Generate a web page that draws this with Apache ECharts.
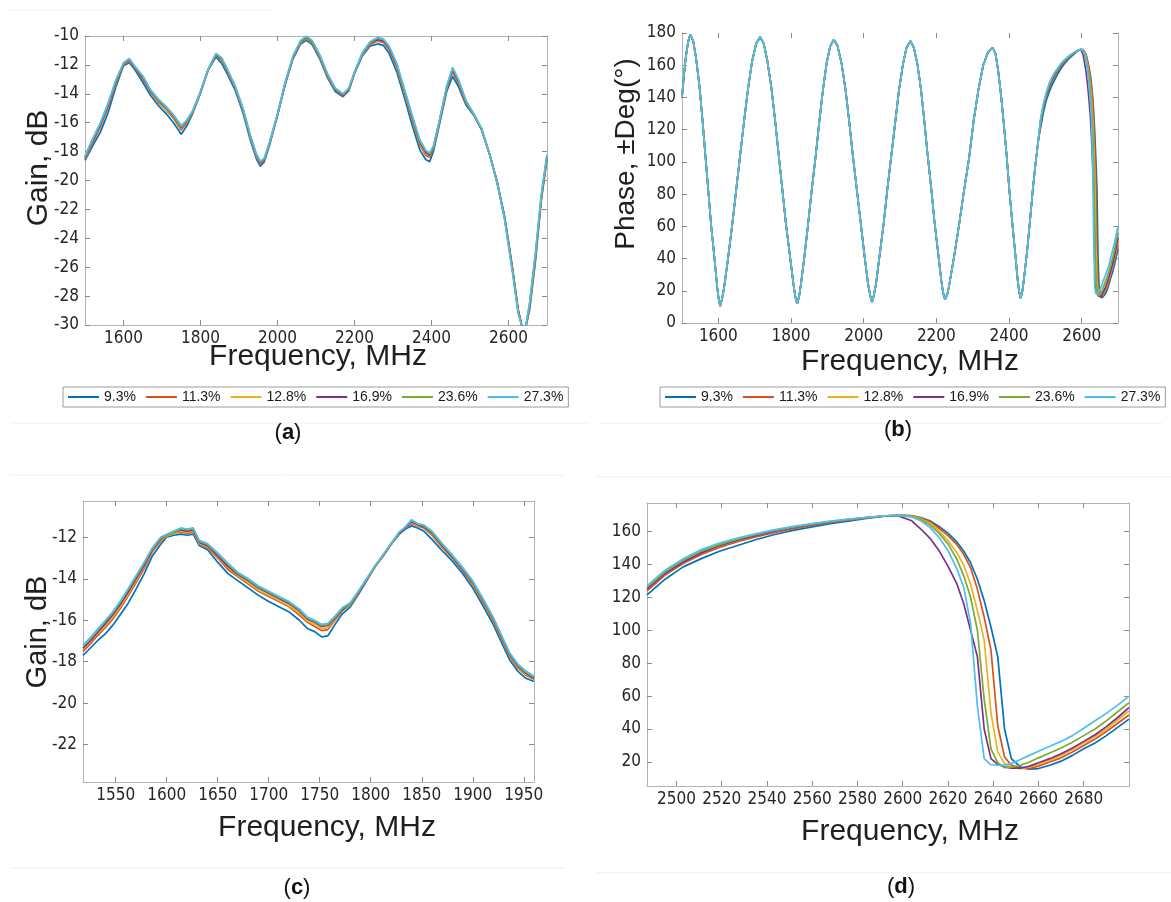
<!DOCTYPE html>
<html>
<head>
<meta charset="utf-8">
<script src="https://cdn.jsdelivr.net/npm/echarts/dist/echarts.min.js"></script>
<style>
html,body{margin:0;padding:0;background:#fff;}
#chart{width:1171px;height:902px;}
</style>
</head>
<body>
<div id="chart"></div>
<script>
// ---------- series meta ----------
const seriesNames = ['9.3%', '11.3%', '12.8%', '16.9%', '23.6%', '27.3%'];
const seriesColors = ['#0072BD', '#D95319', '#EDB120', '#7E2F8E', '#77AC30', '#4DBEEE'];

// ---------- panel (a): gain vs frequency ----------
const freqA = [1500,1520,1540,1560,1580,1600,1615,1630,1650,1670,1690,1710,1730,1750,1765,1780,1800,1820,1840,1855,
  1870,1890,1910,1930,1945,1955,1965,1980,2000,2020,2040,2060,2075,2090,2110,2130,2150,2170,2185,2200,
  2220,2240,2260,2275,2290,2310,2330,2350,2370,2385,2395,2405,2420,2440,2455,2470,2490,2510,2530,2550,
  2570,2590,2610,2625,2635,2645,2655,2670,2685,2700];
const gainA_93 = [-18.6,-17.6,-16.65,-15.3,-13.55,-12.05,-11.85,-12.35,-13.2,-14.1,-14.8,-15.35,-16.0,-16.8,-16.2,-15.35,-13.95,-12.35,-11.45,-11.9,
  -12.65,-13.75,-15.3,-17.25,-18.5,-19.0,-18.75,-17.5,-15.5,-13.35,-11.6,-10.55,-10.3,-10.6,-11.6,-12.9,-13.85,-14.2,-13.8,-12.6,
  -11.4,-10.7,-10.55,-10.65,-11.2,-12.5,-14.3,-16.2,-17.9,-18.55,-18.7,-18.0,-16.2,-13.8,-12.8,-13.5,-14.8,-15.5,-16.5,-18.1,
  -20.0,-22.5,-26.0,-29.0,-30.1,-30.2,-28.9,-25.6,-21.4,-18.5];
const gainA_113 = [-18.5,-17.4,-16.3,-14.95,-13.35,-12.0,-11.75,-12.25,-13.0,-13.9,-14.6,-15.1,-15.7,-16.5,-16.0,-15.25,-13.9,-12.35,-11.35,-11.7,
  -12.5,-13.6,-15.15,-17.1,-18.35,-18.85,-18.65,-17.4,-15.45,-13.3,-11.55,-10.45,-10.2,-10.5,-11.5,-12.8,-13.75,-14.15,-13.75,-12.55,
  -11.3,-10.6,-10.35,-10.45,-10.95,-12.2,-14.0,-15.85,-17.55,-18.25,-18.4,-17.8,-16.1,-13.6,-12.5,-13.3,-14.65,-15.45,-16.45,-18.1,
  -20.05,-22.55,-26.0,-28.9,-30.1,-30.1,-28.8,-25.4,-21.35,-18.4];
const gainA_128 = [-18.45,-17.3,-16.2,-14.85,-13.25,-11.95,-11.7,-12.2,-12.95,-13.85,-14.55,-15.05,-15.6,-16.4,-15.95,-15.25,-13.9,-12.35,-11.3,-11.65,
  -12.45,-13.55,-15.1,-17.05,-18.3,-18.8,-18.6,-17.4,-15.45,-13.25,-11.5,-10.45,-10.15,-10.45,-11.45,-12.75,-13.7,-14.1,-13.7,-12.55,
  -11.3,-10.55,-10.3,-10.4,-10.9,-12.15,-13.95,-15.75,-17.45,-18.15,-18.3,-17.75,-16.05,-13.55,-12.4,-13.2,-14.6,-15.45,-16.45,-18.1,
  -20.1,-22.6,-26.1,-29.0,-30.1,-30.1,-28.7,-25.3,-21.3,-18.35];
const gainA_169 = [-18.4,-17.25,-16.15,-14.8,-13.2,-11.95,-11.65,-12.2,-12.9,-13.8,-14.45,-14.95,-15.55,-16.35,-15.9,-15.2,-13.9,-12.3,-11.3,-11.6,
  -12.4,-13.55,-15.05,-17.0,-18.25,-18.75,-18.6,-17.35,-15.45,-13.25,-11.5,-10.4,-10.1,-10.4,-11.4,-12.7,-13.7,-14.1,-13.7,-12.55,
  -11.25,-10.5,-10.25,-10.35,-10.85,-12.05,-13.85,-15.65,-17.35,-18.05,-18.25,-17.7,-16.0,-13.5,-12.35,-13.15,-14.55,-15.45,-16.45,-18.1,
  -20.1,-22.6,-26.1,-29.0,-30.1,-30.1,-28.6,-25.2,-21.2,-18.3];
const gainA_236 = [-18.35,-17.15,-16.05,-14.7,-13.1,-11.9,-11.6,-12.15,-12.8,-13.75,-14.4,-14.9,-15.5,-16.3,-15.85,-15.2,-13.85,-12.3,-11.25,-11.55,
  -12.35,-13.5,-15.0,-16.95,-18.2,-18.7,-18.55,-17.3,-15.4,-13.2,-11.45,-10.35,-10.05,-10.35,-11.35,-12.65,-13.65,-14.05,-13.65,-12.5,
  -11.2,-10.45,-10.15,-10.25,-10.75,-11.95,-13.75,-15.55,-17.25,-17.95,-18.15,-17.65,-15.95,-13.45,-12.2,-13.05,-14.5,-15.4,-16.4,-18.1,
  -20.1,-22.7,-26.2,-29.1,-30.1,-30.1,-28.5,-25.1,-21.1,-18.25];
const gainA_273 = [-18.3,-17.1,-16.0,-14.65,-13.05,-11.85,-11.55,-12.1,-12.75,-13.7,-14.35,-14.85,-15.45,-16.2,-15.8,-15.15,-13.85,-12.3,-11.2,-11.5,
  -12.3,-13.45,-14.95,-16.9,-18.15,-18.65,-18.5,-17.3,-15.4,-13.2,-11.4,-10.3,-10.0,-10.3,-11.3,-12.6,-13.6,-14.0,-13.6,-12.5,
  -11.2,-10.4,-10.1,-10.2,-10.7,-11.9,-13.7,-15.5,-17.2,-17.9,-18.1,-17.6,-15.9,-13.4,-12.2,-13.0,-14.5,-15.4,-16.4,-18.1,
  -20.1,-22.7,-26.3,-29.2,-30.1,-30.1,-28.4,-25.0,-21.0,-18.2];

// ---------- panel (b): phase, common part 1500–2481 MHz ----------
const freqB = [1500,1505,1510,1515,1520,1523,1531,1539,1548,1556,1564,1572,1580,1589,1597,1601,1605,
  1610,1616,1627,1638,1649,1660,1671,1682,1693,1704,1715,
  1725,1735,1746,1756,1766,1776,1786,1797,1807,1812,1817,
  1822,1827,1837,1847,1857,1868,1878,1888,1898,1908,1918,
  1928,1939,1950,1960,1970,1981,1992,2002,2012,2018,2023,
  2028,2034,2044,2055,2065,2076,2087,2097,2108,2118,2129,
  2138,2148,2158,2167,2176,2186,2195,2205,2214,2219,2224,
  2231,2237,2250,2263,2276,2290,2303,2316,2329,2342,2355,
  2363,2370,2378,2386,2394,2401,2409,2417,2424,2428,2432,
  2437,2442,2450,2458,2466,2474,2481];
const phaseB = [140,153,164,172,177.5,178.8,175,164,147,127,105,83,61,41,22,15,10.5,
  14.7,22.2,40.6,60.6,82.3,104,125.7,145.8,162.5,173.3,177.5,
  173.4,162.6,146.1,126.2,104.7,83.2,61.7,41.8,23.6,16.1,12,
  16.1,23.5,41.5,61.2,82.5,103.8,125.2,144.8,161.2,171.9,176,
  172,161.3,145,125.5,104.3,83.1,61.9,42.3,24.4,17.1,13,
  17.1,24.3,42.2,61.6,82.7,103.7,124.8,144.2,160.4,171,175,
  171,160.6,144.5,125.2,104.4,83.5,62.7,43.4,25.7,18.5,14.5,
  18.4,25.5,42.7,61.5,81.8,102.1,126,145,160,168,171,
  167.1,157,141.5,122.8,102.6,82.4,62.2,43.5,26.4,19.4,15.5,
  20,29,45,64,84,101,114];

// ---------- panel (d): phase 2487–2700 MHz (also tail of panel b) ----------
const freqD = [2487,2495,2503,2511,2519,2527,2535,2543,2551,2560,2568,2576,2584,2592,2598,
  2604,2608,2612,2616,2620,2624,2627,2630,2633,2636,2639,2642,2645,2648,2652,2656,2660,2665,2670,2675,2680,2685,2690,2695,2700];
const phaseD_93 = [121.5,131,138.5,143.5,148,151.5,155,158,160.5,162.8,164.8,166.3,168,169.3,169.8,
  169.6,168.5,166.5,163,159,153.5,148,141,131,118,102,84,40,22,17,15.6,16,18,20.5,24,28,31.5,36,41,46];
const phaseD_113 = [124,133.5,140.5,146,150.3,153.8,156.7,159.3,161.6,163.7,165.4,166.9,168.3,169.3,169.8,
  169.5,168.2,166,162,157.5,152,146,138,125,108,88,42,23,18,16.3,16,17.5,20,22.5,26,30,34,38.5,43.5,48.5];
const phaseD_128 = [125,134.5,141.5,147,151.2,154.6,157.4,160,162.2,164.2,165.8,167.2,168.5,169.4,169.8,
  169.3,167.8,165,160.5,154.5,147,139.5,128,112,94,50,26,19,16.8,16,17,18.5,21,24,27.5,31.5,35.5,40,45.5,51];
const phaseD_169 = [125,134.5,141.5,147,151.3,154.7,157.5,160,162.2,164.2,165.8,167.2,168.5,169.4,169.5,
  166.5,161.5,156,148.5,139,128,116,100,84,40,22,18.5,17,16.2,16.2,17.5,19.5,22,25,28.5,32.5,36.5,41.5,47,53];
const phaseD_236 = [126,135.5,142.5,148,152,155.3,158,160.5,162.5,164.5,166,167.3,168.5,169.5,169.8,
  169,167.3,164,159,152.5,143,133,120,100,58,28,19.5,16.6,16.8,18,20,22.5,25.5,28.5,32,36,40,45,50.5,56];
const phaseD_273 = [127,136.5,143.5,149,153,156,158.5,161,163,164.8,166.3,167.5,168.6,169.5,169.8,
  168.8,166.5,162.5,156.5,148.5,137,126,104,54,22,18.3,18,18.2,19,21.5,24,26.5,29.5,32.5,36,40.5,45,49.5,54.5,60];

// ---------- panel (c): gain zoom 1518–1960 MHz ----------
const freqC = [1518,1525,1532,1540,1547,1555,1562,1570,1578,1586,1594,1600,
  1607,1614,1620,1626,1632,1640,1650,1660,1670,1680,
  1690,1700,1710,1720,1730,1738,1745,1752,1758,1765,
  1772,1780,1788,1796,1804,1812,1820,1828,1834,1840,
  1846,1852,1860,1870,1880,1890,1900,1910,1920,1928,
  1936,1944,1952,1960];
const gainC_93 = [-17.7,-17.35,-17.0,-16.65,-16.25,-15.7,-15.2,-14.5,-13.75,-12.9,-12.35,-12.0,
  -11.9,-11.85,-11.9,-11.85,-12.4,-12.6,-13.2,-13.75,-14.1,-14.45,
  -14.8,-15.1,-15.35,-15.6,-16.0,-16.4,-16.55,-16.8,-16.75,-16.2,
  -15.7,-15.35,-14.75,-14.1,-13.45,-12.9,-12.35,-11.85,-11.6,-11.45,
  -11.55,-11.7,-12.1,-12.65,-13.15,-13.75,-14.45,-15.3,-16.2,-17.05,
  -17.9,-18.45,-18.8,-18.95];
const gainC_113 = [-17.5,-17.15,-16.75,-16.35,-15.95,-15.4,-14.85,-14.2,-13.5,-12.7,-12.2,-11.95,
  -11.8,-11.75,-11.8,-11.75,-12.3,-12.5,-13.0,-13.55,-13.9,-14.25,
  -14.6,-14.85,-15.1,-15.35,-15.75,-16.1,-16.3,-16.5,-16.45,-16.0,
  -15.55,-15.25,-14.7,-14.05,-13.45,-12.9,-12.35,-11.8,-11.55,-11.35,
  -11.45,-11.55,-11.9,-12.5,-13.0,-13.6,-14.3,-15.15,-16.05,-16.9,
  -17.75,-18.3,-18.65,-18.85];
const gainC_128 = [-17.4,-17.05,-16.65,-16.25,-15.85,-15.3,-14.75,-14.1,-13.4,-12.65,-12.15,-11.95,
  -11.8,-11.7,-11.75,-11.7,-12.3,-12.45,-12.95,-13.45,-13.85,-14.2,
  -14.55,-14.8,-15.05,-15.3,-15.65,-16.05,-16.2,-16.4,-16.35,-15.95,
  -15.5,-15.25,-14.65,-14.05,-13.45,-12.9,-12.35,-11.8,-11.55,-11.3,
  -11.45,-11.5,-11.85,-12.45,-12.95,-13.55,-14.25,-15.1,-16.0,-16.85,
  -17.7,-18.25,-18.6,-18.8];
const gainC_169 = [-17.35,-17.0,-16.6,-16.15,-15.75,-15.2,-14.65,-14.0,-13.35,-12.6,-12.1,-11.9,
  -11.75,-11.65,-11.7,-11.65,-12.25,-12.4,-12.9,-13.4,-13.8,-14.1,
  -14.45,-14.7,-14.95,-15.2,-15.55,-15.95,-16.1,-16.3,-16.25,-15.9,
  -15.5,-15.2,-14.65,-14.05,-13.4,-12.9,-12.3,-11.8,-11.55,-11.25,
  -11.4,-11.5,-11.8,-12.4,-12.95,-13.55,-14.2,-15.05,-15.95,-16.8,
  -17.65,-18.2,-18.55,-18.8];
const gainC_236 = [-17.25,-16.9,-16.5,-16.05,-15.65,-15.1,-14.55,-13.9,-13.25,-12.55,-12.05,-11.9,
  -11.75,-11.6,-11.65,-11.6,-12.2,-12.35,-12.8,-13.3,-13.75,-14.05,
  -14.4,-14.65,-14.9,-15.15,-15.5,-15.9,-16.05,-16.25,-16.2,-15.85,
  -15.45,-15.2,-14.6,-14.0,-13.4,-12.85,-12.3,-11.75,-11.5,-11.2,
  -11.35,-11.45,-11.75,-12.35,-12.9,-13.5,-14.15,-15.0,-15.9,-16.75,
  -17.6,-18.15,-18.5,-18.75];
const gainC_273 = [-17.2,-16.85,-16.45,-16.0,-15.6,-15.05,-14.5,-13.85,-13.2,-12.5,-12.0,-11.85,
  -11.7,-11.55,-11.6,-11.55,-12.15,-12.3,-12.75,-13.25,-13.7,-14.0,
  -14.35,-14.6,-14.85,-15.1,-15.45,-15.85,-16.0,-16.2,-16.15,-15.8,
  -15.4,-15.15,-14.6,-14.0,-13.4,-12.85,-12.3,-11.75,-11.5,-11.15,
  -11.35,-11.4,-11.7,-12.3,-12.85,-13.45,-14.1,-14.95,-15.85,-16.7,
  -17.55,-18.1,-18.45,-18.7];

// ---------- tick labels ----------
const ticksAx = [1600, 1800, 2000, 2200, 2400, 2600];
const ticksAy = [-30, -28, -26, -24, -22, -20, -18, -16, -14, -12, -10];
const ticksBx = [1600, 1800, 2000, 2200, 2400, 2600];
const ticksBy = [0, 20, 40, 60, 80, 100, 120, 140, 160, 180];
const ticksCx = [1550, 1600, 1650, 1700, 1750, 1800, 1850, 1900, 1950];
const ticksCy = [-22, -20, -18, -16, -14, -12];
const ticksDx = [2500, 2520, 2540, 2560, 2580, 2600, 2620, 2640, 2660, 2680];
const ticksDy = [20, 40, 60, 80, 100, 120, 140, 160];

// ---------- build ----------
const gainA = [gainA_93, gainA_113, gainA_128, gainA_169, gainA_236, gainA_273];
const phaseD = [phaseD_93, phaseD_113, phaseD_128, phaseD_169, phaseD_236, phaseD_273];
const gainC = [gainC_93, gainC_113, gainC_128, gainC_169, gainC_236, gainC_273];

const narrow = "'Liberation Sans Narrow','Arial Narrow','DejaVu Sans Condensed','Liberation Sans',sans-serif";
const sans = "'Liberation Sans',Arial,Helvetica,sans-serif";
const boxColor = '#b3b3b3';
const tickColor = '#8a8a8a';
const labelColor = '#262626';
const plain = v => String(v);

function xPair(g, min, max, ticks, topLine) {
  const base = {
    type: 'value', gridIndex: g, min: min, max: max,
    splitLine: {show: false},
    axisLine: {show: true, onZero: false, lineStyle: {color: boxColor, width: 1}},
    axisTick: {show: true, inside: true, length: 5, customValues: ticks, lineStyle: {color: tickColor}}
  };
  return [
    Object.assign({}, base, {position: 'bottom',
      axisLabel: {show: true, customValues: ticks, formatter: plain, margin: 5, fontSize: 17, color: labelColor, fontFamily: narrow}}),
    Object.assign({}, base, {position: 'top',
      axisLine: {show: topLine, onZero: false, lineStyle: {color: boxColor, width: 1}},
      axisLabel: {show: false}})
  ];
}
function yPair(g, min, max, ticks) {
  const base = {
    type: 'value', gridIndex: g, min: min, max: max,
    splitLine: {show: false},
    axisLine: {show: true, onZero: false, lineStyle: {color: boxColor, width: 1}},
    axisTick: {show: true, inside: true, length: 5, customValues: ticks, lineStyle: {color: tickColor}}
  };
  return [
    Object.assign({}, base, {position: 'left',
      axisLabel: {show: true, customValues: ticks, formatter: plain, margin: 6, fontSize: 17, color: labelColor, fontFamily: narrow}}),
    Object.assign({}, base, {position: 'right', axisLabel: {show: false}})
  ];
}

const xAxis = [].concat(
  xPair(0, 1500, 2700, ticksAx, true),
  xPair(1, 1500, 2700, ticksBx, false),
  xPair(2, 1518, 1960, ticksCx, true),
  xPair(3, 2487, 2700, ticksDx, true)
);
const yAxis = [].concat(
  yPair(0, -30, -10, ticksAy),
  yPair(1, 0, 180, ticksBy),
  yPair(2, -23.8, -10.25, ticksCy),
  yPair(3, 5.4, 177.3, ticksDy)
);

const series = [];
function addLine(name, color, axisIdx, data) {
  series.push({
    type: 'line', name: name, xAxisIndex: axisIdx * 2, yAxisIndex: axisIdx * 2,
    data: data, showSymbol: false, symbol: 'none', clip: true,
    lineStyle: {width: 1.7, color: color}, itemStyle: {color: color},
    emphasis: {disabled: true}, animation: false
  });
}
for (let i = 0; i < 6; i++) {
  addLine(seriesNames[i], seriesColors[i], 0, freqA.map((f, k) => [f, gainA[i][k]]));
}
for (let i = 0; i < 6; i++) {
  const d = freqB.map((f, k) => [f, phaseB[k]]).concat(freqD.map((f, k) => [f, phaseD[i][k]]));
  addLine(seriesNames[i], seriesColors[i], 1, d);
}
for (let i = 0; i < 6; i++) {
  addLine(seriesNames[i], seriesColors[i], 2, freqC.map((f, k) => [f, gainC[i][k]]));
}
for (let i = 0; i < 6; i++) {
  addLine(seriesNames[i], seriesColors[i], 3, freqD.map((f, k) => [f, phaseD[i][k]]));
}

function legendAt(left) {
  return {
    data: seriesNames, left: left, top: 387, orient: 'horizontal',
    icon: 'rect', itemWidth: 31, itemHeight: 2, itemGap: 10,
    padding: [2, 5, 2, 5], borderColor: '#9c9c9c', borderWidth: 1, backgroundColor: '#fff',
    selectedMode: false,
    textStyle: {fontSize: 14, color: '#1a1a1a', fontFamily: sans, lineHeight: 16}
  };
}

function title(text, x, y, size, rotate) {
  return {type: 'text', x: x, y: y, rotation: rotate ? Math.PI / 2 : 0, silent: true,
    style: {text: text, fill: '#1f1f1f', font: size + 'px ' + sans, textAlign: 'center', textVerticalAlign: 'middle'}};
}
function panelLabel(letter, x, y) {
  return {type: 'text', x: x, y: y, silent: true,
    style: {text: '{n|(}{b|' + letter + '}{n|)}', textAlign: 'center', textVerticalAlign: 'middle',
      rich: {n: {fontSize: 22, fontFamily: sans, fill: '#111', fontWeight: 'normal'},
             b: {fontSize: 22, fontFamily: sans, fill: '#111', fontWeight: 'bold'}}}};
}
function faint(x1, y1, x2, y2) {
  return {type: 'line', silent: true, shape: {x1: x1, y1: y1, x2: x2, y2: y2}, style: {stroke: '#efefef', lineWidth: 1}};
}

const option = {
  backgroundColor: '#ffffff',
  animation: false,
  grid: [
    {left: 85, top: 36, width: 462, height: 289},
    {left: 682, top: 33, width: 436, height: 290},
    {left: 83, top: 501, width: 451, height: 281},
    {left: 647, top: 503, width: 482, height: 283}
  ],
  xAxis: xAxis,
  yAxis: yAxis,
  legend: [legendAt(63), legendAt(660)],
  series: series,
  graphic: [
    faint(10, 10, 272, 10), faint(10, 423, 590, 423), faint(600, 423, 1162, 423),
    faint(10, 475, 565, 475), faint(10, 868, 565, 868), faint(595, 477, 1171, 477), faint(595, 873, 1171, 873),
    title('Gain, dB', 39, 168, 30, true),
    title('Frequency, MHz', 318, 357, 30, false),
    title('Phase, \u00B1Deg(\u00B0)', 626, 154, 28, true),
    title('Frequency, MHz', 910, 362, 30, false),
    title('Gain, dB', 38, 632, 29, true),
    title('Frequency, MHz', 327, 828, 30, false),
    title('Frequency, MHz', 910, 832, 30, false),
    panelLabel('a', 288, 433),
    panelLabel('b', 898, 430),
    panelLabel('c', 297, 888),
    panelLabel('d', 901, 887)
  ]
};

const chart = echarts.init(document.getElementById('chart'), null, {renderer: 'canvas'});
chart.setOption(option);
</script>
</body>
</html>
